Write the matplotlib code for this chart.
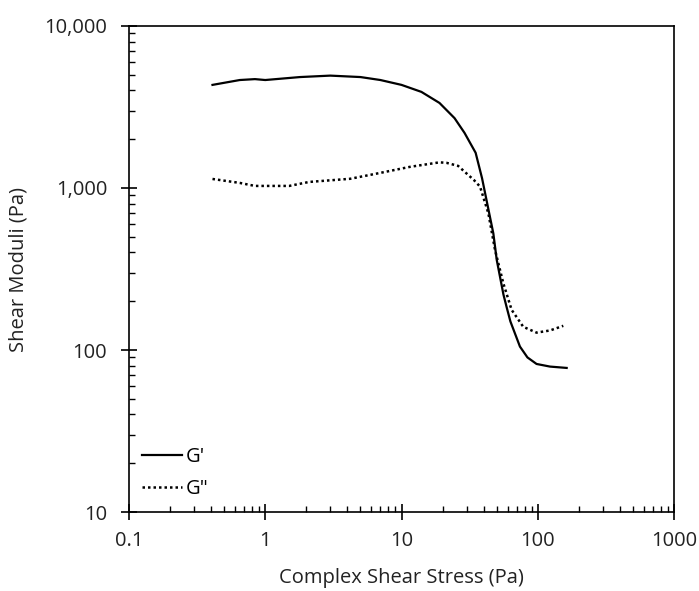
import numpy as np
import matplotlib
matplotlib.use('Agg')
import matplotlib.pyplot as plt
from matplotlib.ticker import FuncFormatter, LogLocator, NullFormatter

plt.rcParams['font.family'] = ['Open Sans', 'DejaVu Sans']

# G' (storage modulus)
g1_stress = [0.41, 0.65, 0.84, 1.0, 1.8, 3.0, 5.0, 7.0, 10.0, 14.0, 19.0, 24.5, 29.0,
             35.0, 39.0, 44.0, 47.2, 50.0, 56.0, 59.0, 63.0, 74.0, 84.0, 98.0, 123.0, 163.0]
g1_mod = [4330, 4640, 4700, 4640, 4840, 4940, 4840, 4640, 4330, 3920, 3350, 2700, 2190,
          1650, 1150, 700, 525, 360, 220, 185, 150, 105, 90, 82, 79, 77.5]

# G'' (loss modulus)
g2_stress = [0.41, 0.65, 0.84, 1.5, 2.1, 4.2, 7.0, 11.5, 19.0, 21.4, 26.0, 30.0, 34.0,
             37.7, 43.4, 48.6, 55.9, 64.3, 78.3, 98.0, 123.0, 154.0]
g2_mod = [1137, 1075, 1030, 1030, 1090, 1140, 1240, 1350, 1440, 1430, 1370, 1230, 1120,
          1020, 698, 414, 258, 177, 139, 128, 132, 141]

fig = plt.figure(figsize=(6.99, 5.91), dpi=100)
ax = fig.add_axes([129 / 699, 1 - 512 / 591, 545 / 699, 486 / 591])

ax.plot(g1_stress, g1_mod, color='black', lw=1.6, label="G'")
ax.plot(g2_stress, g2_mod, color='black', lw=1.8, linestyle=(0, (1, 1.2)), label='G"')

ax.set_xscale('log')
ax.set_yscale('log')
ax.set_xlim(0.1, 1000)
ax.set_ylim(10, 10000)

ax.xaxis.set_major_locator(LogLocator(base=10, numticks=10))
ax.yaxis.set_major_locator(LogLocator(base=10, numticks=10))
ax.xaxis.set_minor_locator(LogLocator(base=10, subs=np.arange(2, 10), numticks=20))
ax.yaxis.set_minor_locator(LogLocator(base=10, subs=np.arange(2, 10), numticks=20))
ax.xaxis.set_minor_formatter(NullFormatter())
ax.yaxis.set_minor_formatter(NullFormatter())
ax.xaxis.set_major_formatter(FuncFormatter(lambda v, p: f'{v:g}'))
ax.yaxis.set_major_formatter(FuncFormatter(lambda v, p: f'{v:,.0f}'))

ax.tick_params(which='major', direction='inout', length=11.5, width=1.2,
               labelsize=14.5, pad=8, colors='black', labelcolor='#222222')
ax.tick_params(which='minor', direction='in', length=4.5, width=1.0)
ax.tick_params(top=False, right=False, which='both')
ax.tick_params(axis='y', which='major', pad=10)
for s in ax.spines.values():
    s.set_linewidth(1.2)

ax.set_xlabel('Complex Shear Stress (Pa)', fontsize=14.5, labelpad=12, color='#222222')
ax.set_ylabel('Shear Moduli (Pa)', fontsize=14.5, labelpad=11, color='#222222')

ax.legend(loc='lower left', bbox_to_anchor=(-0.01, -0.01), frameon=False, fontsize=14.5,
          handlelength=2.0, handletextpad=0.2, labelspacing=0.6)

fig.savefig('out.png', dpi=100)
plt.close(fig)
